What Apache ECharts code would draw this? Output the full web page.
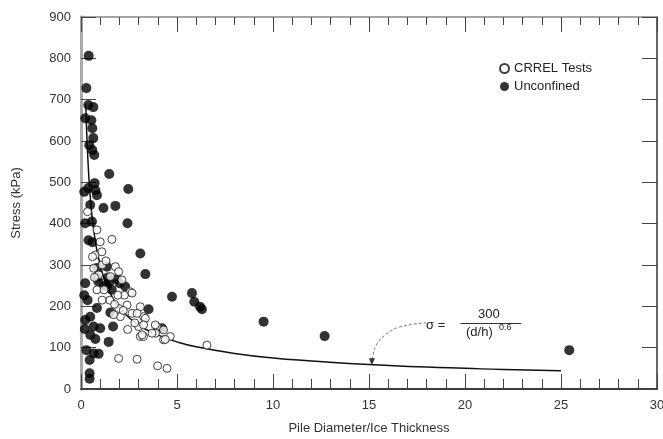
<!DOCTYPE html>
<html>
<head>
<meta charset="utf-8">
<script src="https://cdn.jsdelivr.net/npm/echarts@6/dist/echarts.min.js"></script>
<style>
  html, body { margin: 0; padding: 0; background: #fff; }
  #chart { width: 663px; height: 439px; }
</style>
</head>
<body>
<div id="chart"></div>
<script>
// CRREL tests (open circles), [d/h, stress kPa]
var crrelData = [
    [0.34, 429], [0.83, 385], [1.0, 356], [1.61, 362], [0.74, 324], [1.09, 332], [0.66, 292],
    [0.92, 276], [1.79, 296], [1.96, 284], [0.83, 240], [1.2, 240], [2.13, 264], [2.57, 235],
    [2.26, 227], [1.92, 227], [1.96, 195], [2.4, 203], [2.66, 183], [3.09, 199], [3.26, 175],
    [3.0, 151], [3.09, 127], [3.26, 127], [3.96, 151], [3.88, 135], [4.3, 119], [4.65, 127],
    [2.43, 144], [2.05, 175], [6.56, 106], [1.96, 74], [2.92, 72], [3.99, 56], [4.48, 50],
    [1.53, 272], [2.66, 232], [2.92, 183], [3.35, 171], [3.26, 155], [3.87, 155], [4.3, 143],
    [3.18, 131], [3.7, 135], [4.39, 120], [1.1, 300], [1.3, 310], [0.6, 320], [1.5, 215],
    [1.75, 205], [2.2, 190], [2.8, 160], [1.7, 180], [0.7, 270], [1.1, 215]
];

// unconfined tests (filled circles)
var unconfinedData = [
    [0.4, 806], [0.28, 728], [0.38, 687], [0.64, 682], [0.22, 655], [0.54, 650], [0.59, 631],
    [0.64, 607], [0.43, 590], [0.59, 578], [0.69, 566], [1.47, 520], [2.46, 484], [0.17, 477],
    [0.71, 498], [0.83, 469], [0.38, 486], [0.75, 481], [0.48, 445], [1.17, 438], [1.79, 443],
    [2.42, 401], [0.22, 401], [0.57, 405], [0.39, 360], [0.6, 355], [3.09, 328], [3.35, 278],
    [4.74, 223], [5.78, 232], [5.9, 211], [6.2, 199], [6.3, 193], [0.22, 256], [0.83, 293],
    [0.83, 270], [1.35, 296], [1.4, 270], [1.35, 248], [1.87, 266], [2.3, 248], [1.6, 240],
    [0.17, 227], [0.34, 215], [0.83, 196], [0.48, 175], [0.22, 167], [0.66, 151], [1.0, 147],
    [0.2, 145], [0.48, 131], [0.75, 121], [1.44, 114], [3.52, 193], [4.22, 147], [0.28, 94],
    [0.66, 86], [0.92, 85], [0.45, 70], [0.45, 38], [0.45, 25], [1.67, 151], [1.53, 185],
    [2.01, 256], [9.51, 163], [12.69, 128], [25.43, 94], [1.5, 260], [1.2, 250], [0.9, 260]
];

// sigma = 300/(d/h)^0.6
var curveX = [0.25, 0.3, 0.4, 0.5, 0.7, 1, 1.5, 2, 3, 4, 5, 6, 8, 10, 12, 15, 18, 20, 22, 25];
var curveY = [690, 617, 520, 455, 372, 300, 235, 198, 155, 131, 114, 102, 86, 75, 68, 59, 53, 50, 47, 44];

// leader from the equation to the curve
var leaderX = [18.0, 16.6, 15.85, 15.38, 15.2, 15.15];
var leaderY = [160, 150, 131, 106, 80, 66];

// fraction bar of the equation, in data units
var barX = [19.76, 22.93];
var barY = 160;

var xTicks = [0, 5, 10, 15, 20, 25, 30];
var yTicks = [0, 100, 200, 300, 400, 500, 600, 700, 800, 900];

var curveData = curveX.map(function (x, i) { return [x, curveY[i]]; });
var leaderData = leaderX.map(function (x, i) {
    if (i == leaderX.length - 1) {
        return { value: [x, leaderY[i]], symbol: 'triangle', symbolRotate: 180, symbolSize: [6, 7] };
    }
    return { value: [x, leaderY[i]], symbol: 'none' };
});

var tickColor = '#444';
var fontFam = 'Liberation Sans, Arial, sans-serif';
var labelFont = { color: '#333', fontSize: 13, fontFamily: fontFam };
var gridBox = { left: 81, right: 6, top: 17, bottom: 50, outerBoundsMode: 'none' };

function eqText(text, left, top, size) {
    return {
        text: text,
        left: left,
        top: top,
        padding: 0,
        textStyle: { color: '#222', fontSize: size, fontWeight: 'normal', fontFamily: fontFam }
    };
}

// tick-only axes of the overlay grid (frame and inward ticks on four sides)
function frameX(pos, lineColor, minorLen) {
    return {
        type: 'value', gridIndex: 1, position: pos,
        min: xTicks[0], max: xTicks[xTicks.length - 1], interval: 5,
        axisLine: { show: true, onZero: false, lineStyle: { color: lineColor, width: 1.5 } },
        axisTick: { show: true, inside: true, length: 15, lineStyle: { color: tickColor } },
        minorTick: { show: true, splitNumber: 5, length: minorLen, lineStyle: { color: tickColor } },
        axisLabel: { show: false },
        splitLine: { show: false }
    };
}
function frameY(pos, lineColor, lineWidth) {
    return {
        type: 'value', gridIndex: 1, position: pos,
        min: yTicks[0], max: yTicks[yTicks.length - 1], interval: 100,
        axisLine: { show: true, onZero: false, lineStyle: { color: lineColor, width: lineWidth } },
        axisTick: { show: true, inside: true, length: 15, lineStyle: { color: tickColor } },
        axisLabel: { show: false },
        splitLine: { show: false }
    };
}

var myChart = echarts.init(document.getElementById('chart'));
var option = {
    animation: false,
    title: [
        eqText('σ =', 426, 319, 13),
        eqText('300', 478, 308, 13),
        eqText('(d/h)', 466, 326, 13),
        eqText('0.6', 499, 323, 9)
    ],
    grid: [gridBox, gridBox],
    legend: {
        orient: 'vertical',
        left: 494,
        top: 57,
        itemGap: 5,
        itemWidth: 9,
        itemHeight: 9,
        textStyle: { color: '#222', fontSize: 13, fontFamily: fontFam },
        data: ['CRREL Tests', 'Unconfined']
    },
    xAxis: [{
        type: 'value',
        gridIndex: 0,
        min: xTicks[0],
        max: xTicks[xTicks.length - 1],
        interval: 5,
        name: 'Pile Diameter/Ice Thickness',
        nameLocation: 'middle',
        nameGap: 33,
        nameTextStyle: labelFont,
        axisLine: { show: true, onZero: false, lineStyle: { color: '#333', width: 1.5 } },
        axisTick: { show: true, inside: true, length: 15, lineStyle: { color: tickColor } },
        minorTick: { show: true, splitNumber: 5, length: 10, lineStyle: { color: tickColor } },
        axisLabel: { margin: 10, fontSize: 13, color: '#333', fontFamily: fontFam },
        splitLine: { show: false }
    }, frameX('bottom', '#333', 10), frameX('top', '#888', 8)],
    yAxis: [{
        type: 'value',
        gridIndex: 0,
        min: yTicks[0],
        max: yTicks[yTicks.length - 1],
        interval: 100,
        name: 'Stress (kPa)',
        nameLocation: 'middle',
        nameGap: 58,
        nameTextStyle: labelFont,
        axisLine: { show: true, onZero: false, lineStyle: { color: '#aaa', width: 3 } },
        axisTick: { show: true, inside: true, length: 15, lineStyle: { color: tickColor } },
        axisLabel: { margin: 10, fontSize: 13, color: '#333', fontFamily: fontFam },
        splitLine: { show: false }
    }, frameY('left', '#aaa', 3), frameY('right', '#333', 1.5)],
    series: [{
        name: 'fit',
        type: 'line',
        data: curveData,
        smooth: true,
        showSymbol: false,
        lineStyle: { color: '#111', width: 1.5 },
        z: 1
    }, {
        name: 'leader',
        type: 'line',
        xAxisIndex: 1,
        yAxisIndex: 1,
        data: leaderData,
        smooth: true,
        itemStyle: { color: '#333' },
        lineStyle: { color: '#777', width: 1, type: [3, 2] },
        markLine: {
            silent: true,
            symbol: 'none',
            label: { show: false },
            lineStyle: { color: '#333', width: 1, type: 'solid' },
            data: [[{ coord: [barX[0], barY] }, { coord: [barX[1], barY] }]]
        },
        z: 1
    }, {
        name: 'CRREL Tests',
        type: 'scatter',
        data: crrelData,
        symbol: 'circle',
        symbolSize: 8,
        itemStyle: { color: '#fff', borderColor: '#111', borderWidth: 1 },
        z: 3
    }, {
        name: 'Unconfined',
        type: 'scatter',
        data: unconfinedData,
        symbol: 'circle',
        symbolSize: 10,
        itemStyle: { color: '#000' },
        z: 2
    }]
};

myChart.setOption(option);
</script>
</body>
</html>
